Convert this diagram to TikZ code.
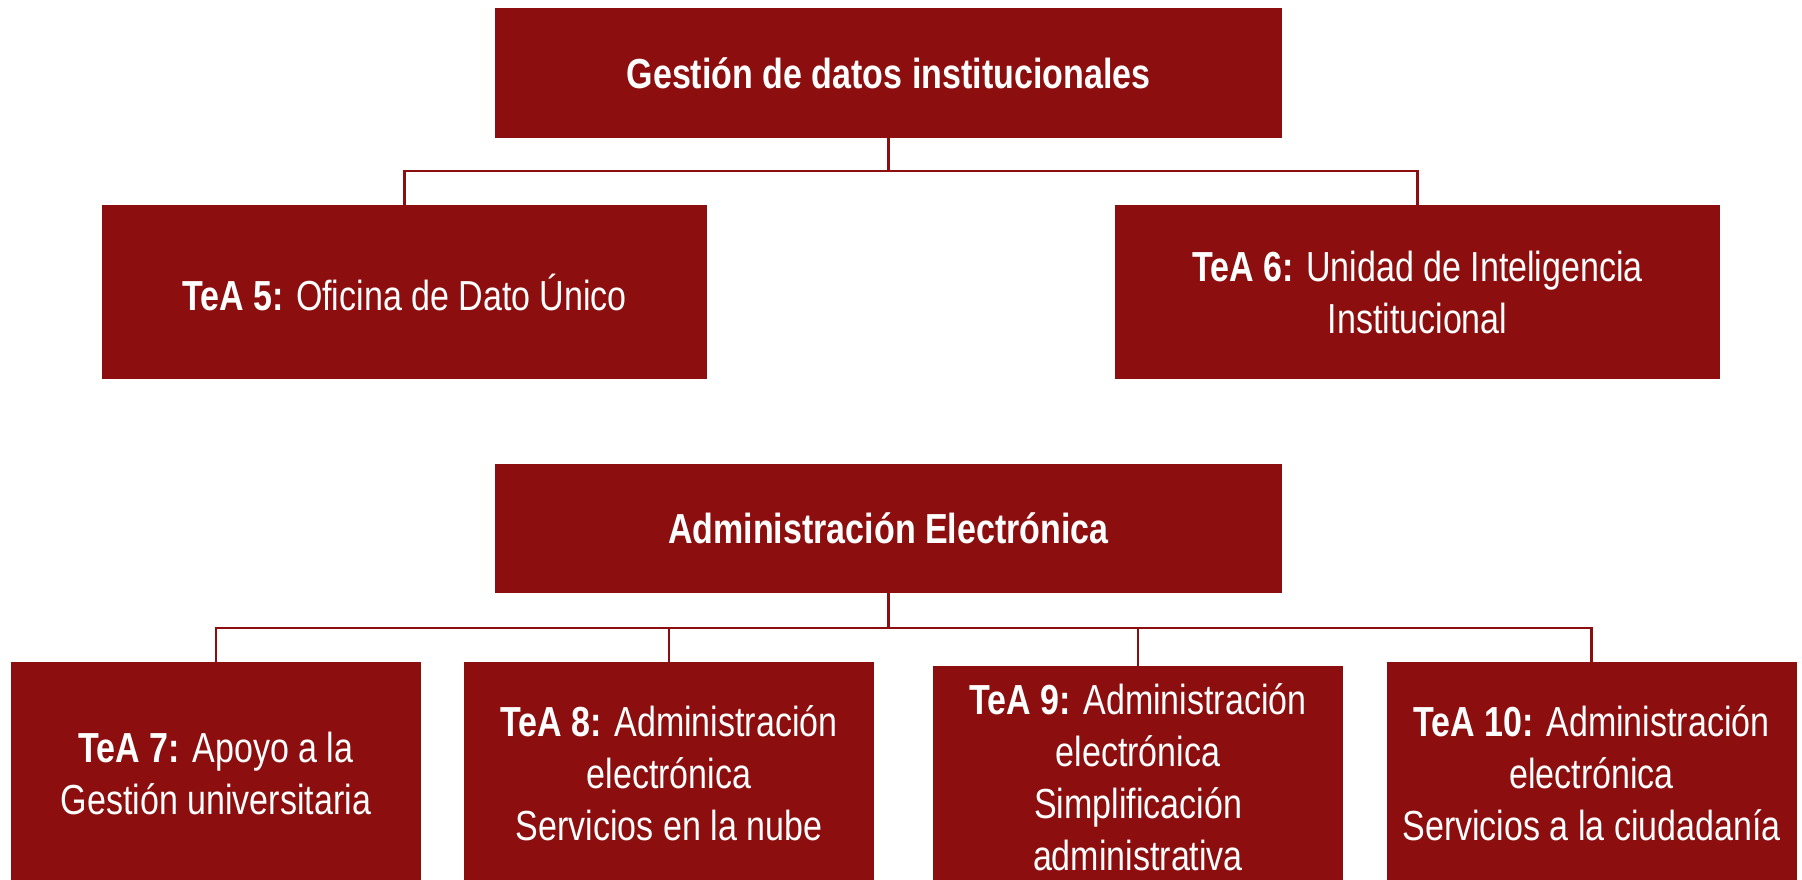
\documentclass[tikz,border=0pt]{standalone}
\usepackage{fontspec}
\setmainfont{Liberation Sans}[FakeStretch=0.81]
\definecolor{boxred}{HTML}{8C0E0E}
\begin{document}
\begin{tikzpicture}[x=1pt,y=-1pt,
  box/.style={fill=boxred, draw=none, text=white, align=center, inner sep=0pt,
    font=\fontsize{42}{52}\selectfont},
  link/.style={draw=boxred, line width=2.2pt}]
\useasboundingbox (0,0) rectangle (1802,880);
\clip (0,0) rectangle (1802,880);
% top group
\node[box, minimum width=787, minimum height=130] (g) at (888.5,73) {\textbf{Gestión de datos institucionales}};
\node[box, minimum width=605, minimum height=174] (t5) at (404.5,292) {\textbf{TeA 5:} Oficina de Dato Único};
\node[box, minimum width=605, minimum height=174] (t6) at (1417.5,292) {\textbf{TeA 6:} Unidad de Inteligencia\\Institucional};
\coordinate (gj) at ([yshift=-33pt]g.south);
\draw[link] (g.south) -- (gj);
\draw[link] (gj) -| (t5.north);
\draw[link] (gj) -| (t6.north);
% bottom group
\node[box, minimum width=787, minimum height=129] (a) at (888.5,528.5) {\textbf{Administración Electrónica}};
\node[box, minimum width=410, minimum height=222] (t7) at (216,773) {\textbf{TeA 7:} Apoyo a la\\Gestión universitaria};
\node[box, minimum width=410, minimum height=222] (t8) at (669,773) {\textbf{TeA 8:} Administración\\electrónica\\Servicios en la nube};
\node[box, minimum width=410, minimum height=222] (t9) at (1138,777) {\textbf{TeA 9:} Administración\\electrónica\\Simplificación\\administrativa};
\node[box, minimum width=410, minimum height=222] (t10) at (1591.5,773) {\textbf{TeA 10:} Administración\\electrónica\\Servicios a la ciudadanía};
\coordinate (aj) at ([yshift=-34.5pt]a.south);
\draw[link] (a.south) -- (aj);
\draw[link] (aj) -| (t7.north);
\draw[link] (aj) -| (t8.north);
\draw[link] (aj) -| (t9.north);
\draw[link] (aj) -| (t10.north);
\end{tikzpicture}
\end{document}
